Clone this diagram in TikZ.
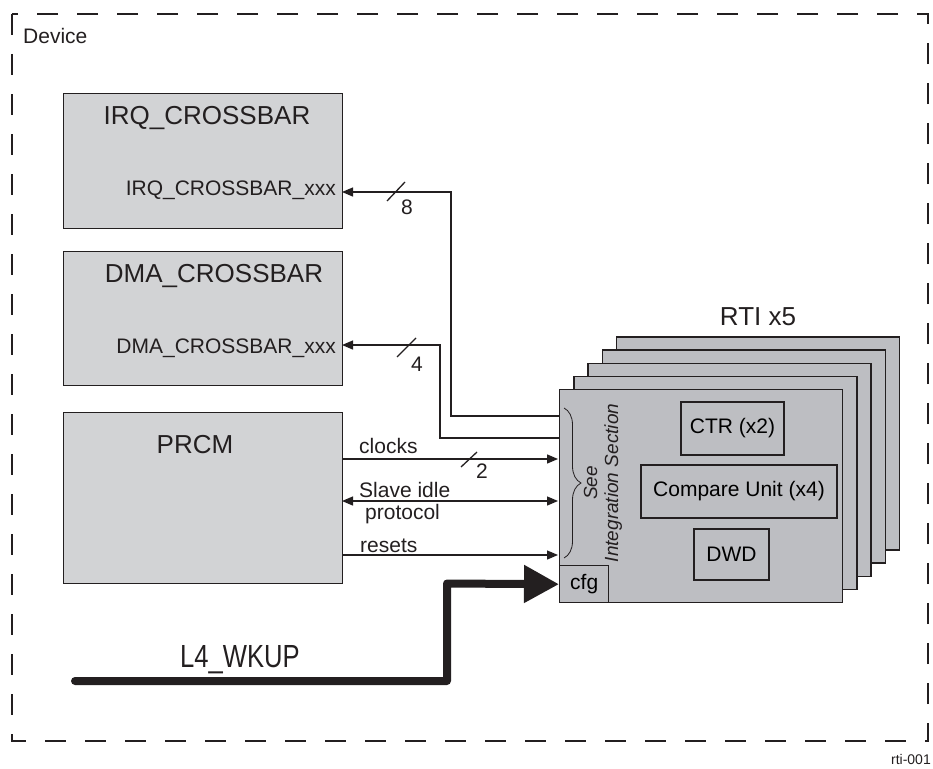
\documentclass[tikz,border=0pt]{standalone}
\usepackage{fontspec}
\setmainfont{Liberation Sans}
\usepackage{tikz}
\usetikzlibrary{arrows.meta,positioning,calc,decorations.pathreplacing}
\usepackage{xcolor}
\definecolor{xbarc}{HTML}{D2D3D5}
\definecolor{rtic}{HTML}{BDBEC2}
\definecolor{linec}{HTML}{231F20}
\newcommand{\titlefont}{\fontsize{26}{30}\selectfont}
\newcommand{\pinfont}{\fontsize{21}{24}\selectfont}

\begin{document}
\begin{tikzpicture}[x=1pt, y=-1pt,
  xbar/.style={draw=linec, fill=xbarc, line width=1.4pt, inner sep=0pt, anchor=north west},
  rtibox/.style={draw=linec, fill=rtic, line width=1.4pt, inner sep=0pt},
  sig/.style={draw=linec, line width=1.3pt},
  tip/.style={-{Triangle[length=11pt,width=9pt]}},
  lbl/.style={font=\pinfont, inner sep=0pt, text=linec}]
  \useasboundingbox (0,0) rectangle (933,768);
  \draw[draw=linec, line width=1.3pt, dash pattern=on 21pt off 19pt] (12,14) rectangle (928,741);
  \node[anchor=base west, font=\fontsize{21}{24}\selectfont, inner sep=0pt, text=linec] (device) at (23,44) {Device};

  % crossbars and PRCM
  \node[xbar, minimum width=279pt, minimum height=135pt] (irq) at (63,93) {};
  \node[anchor=base, font=\titlefont, inner sep=0pt, text=linec] (irqname) at (207,124) {IRQ\_CROSSBAR};
  \node[lbl, anchor=base east] (irqpin) at (336,195) {IRQ\_CROSSBAR\_xxx};
  \node[xbar, minimum width=279pt, minimum height=134pt] (dma) at (63,251) {};
  \node[anchor=base, font=\titlefont, inner sep=0pt, text=linec] (dmaname) at (214,282) {DMA\_CROSSBAR};
  \node[lbl, anchor=base east] (dmapin) at (336,353) {DMA\_CROSSBAR\_xxx};
  \node[xbar, minimum width=279pt, minimum height=171pt] (prcm) at (63,412) {};
  \node[anchor=base, font=\titlefont, inner sep=0pt, text=linec] (prcmname) at (195,453) {PRCM};

  % RTI stack
  \foreach \k in {4,3,2,1}
    \node[rtibox, anchor=north west, minimum width=283pt, minimum height=213pt] (rti\k) at ({559+14.2*\k},{389-13.2*\k}) {};
  \node[rtibox, anchor=north west, minimum width=283pt, minimum height=213pt] (rti0) at (559,389) {};
  \node[anchor=base, font=\titlefont, inner sep=0pt, text=linec] (rtiname) at (758,325) {RTI x5};
  \node[rtibox, minimum width=103pt, minimum height=53pt, font=\pinfont] (ctr) at (732.5,428.5) {CTR (x2)};
  \node[rtibox, minimum width=196pt, minimum height=53pt, font=\pinfont] (cmp) at (739,491.5) {Compare Unit (x4)};
  \node[rtibox, minimum width=75pt, minimum height=51pt, font=\pinfont] (dwd) at (731.5,554.5) {DWD};
  \node[rtibox, anchor=south west, minimum width=49pt, minimum height=37pt, font=\pinfont] (cfg) at (rti0.south west) {cfg};
  \draw[draw=linec, line width=0.8pt, decorate, decoration={brace, amplitude=17pt}] (564,408) -- (564,558);
  \node[rotate=90, align=center, font=\fontsize{19}{21}\selectfont\itshape, inner sep=0pt, text=linec] (seeint) at (603,483)
    {See\\Integration Section};

  % interrupt and DMA requests
  \coordinate (irqout) at (559,416);
  \coordinate (irqbend) at (451,192);
  \coordinate (irqin) at (342,192);
  \draw[sig, tip] (irqout) -| (irqbend) -- (irqin);
  \draw[sig] (387,201) -- (405,182);
  \node[lbl, anchor=base] (irqn) at (407,214) {8};
  \coordinate (dmaout) at (559,438);
  \coordinate (dmabend) at (440,345);
  \coordinate (dmain) at (342,345);
  \draw[sig, tip] (dmaout) -| (dmabend) -- (dmain);
  \draw[sig] (397,357) -- (416,338);
  \node[lbl, anchor=base] (dman) at (417,371) {4};

  % PRCM signals
  \coordinate (clkout) at (342,459);
  \coordinate (clkin) at (558,459);
  \draw[sig, tip] (clkout) -- (clkin);
  \draw[sig] (461,467) -- (477,452);
  \node[lbl, anchor=base] (clkn) at (482,478) {2};
  \node[lbl, anchor=base west] (clklbl) at (359,453) {clocks};
  \coordinate (idleout) at (342,501);
  \coordinate (idlein) at (558,501);
  \draw[sig, {Triangle[length=11pt,width=9pt]}-{Triangle[length=11pt,width=9pt]}] (idleout) -- (idlein);
  \node[lbl, anchor=base west] (idlelbl) at (359,497) {Slave idle};
  \node[lbl, anchor=base west] (protlbl) at (365,519) {protocol};
  \coordinate (rstout) at (342,555);
  \coordinate (rstin) at (558,555);
  \draw[sig, tip] (rstout) -- (rstin);
  \node[lbl, anchor=base west] (rstlbl) at (360,552) {resets};

  % L4_WKUP bus
  \coordinate (l4start) at (75,681);
  \coordinate (l4bend) at (447,583.5);
  \draw[draw=linec, line width=8pt, line cap=round, line join=round, -{Triangle[length=35pt,width=36pt]}]
    (l4start) -| (l4bend) -- (cfg.west);
  \node[anchor=base, inner sep=0pt, text=linec] (l4name) at (240,667)
    {\fontsize{32}{36}\selectfont\scalebox{0.8}[1]{L4\_WKUP}};
  \node[anchor=base east, font=\fontsize{14}{16}\selectfont, inner sep=0pt, text=linec] (figid) at (931,764) {rti-001};
\end{tikzpicture}
\end{document}
